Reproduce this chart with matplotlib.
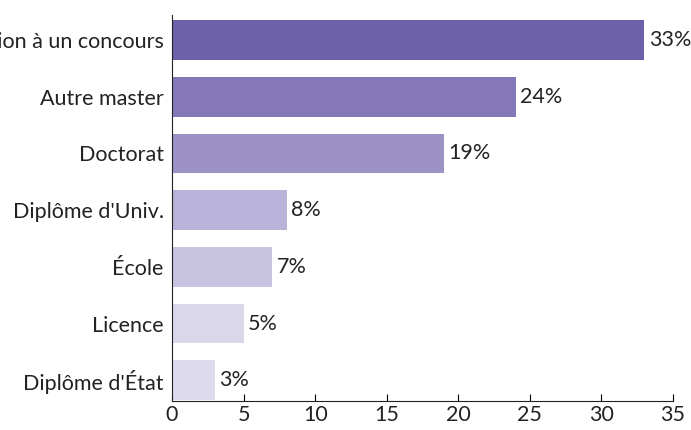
import numpy as np
import matplotlib.pyplot as plt

plt.rcParams['font.family'] = ['Lato', 'DejaVu Sans']

categories = ["Diplôme d'État", "Licence", "École", "Diplôme d'Univ.",
              "Doctorat", "Autre master", "Préparation à un concours"]
values = [3, 5, 7, 8, 19, 24, 33]
colors = ['#dddaed', '#dad7eb', '#c8c3e1', '#bab3d9', '#9d92c6', '#8578b8', '#6c60a8']

fig = plt.figure(figsize=(6.91, 4.30), dpi=100)
ax = fig.add_axes([0.249, 0.067, 0.725, 0.898])

y = np.arange(len(categories))
ax.barh(y, values, height=0.7, color=colors)
for yi, v in zip(y, values):
    ax.text(v + 0.3, yi, f'{v}%', va='center', ha='left', fontsize=15.5, color='#222222')

ax.set_yticks(y)
ax.set_yticklabels(categories, fontsize=15.5, color='#222222')
ax.tick_params(axis='y', length=0, pad=6)
ax.set_xlim(0, 35)
ax.set_ylim(-0.37, 6.44)
ax.set_xticks(np.arange(0, 36, 5))
ax.tick_params(axis='x', direction='in', length=5, labelsize=15.5, labelcolor='#222222', pad=3)
for s in ['top', 'right']:
    ax.spines[s].set_visible(False)
ax.spines['left'].set_color('#222222')
ax.spines['bottom'].set_color('#222222')

fig.savefig('out.png', dpi=100)
